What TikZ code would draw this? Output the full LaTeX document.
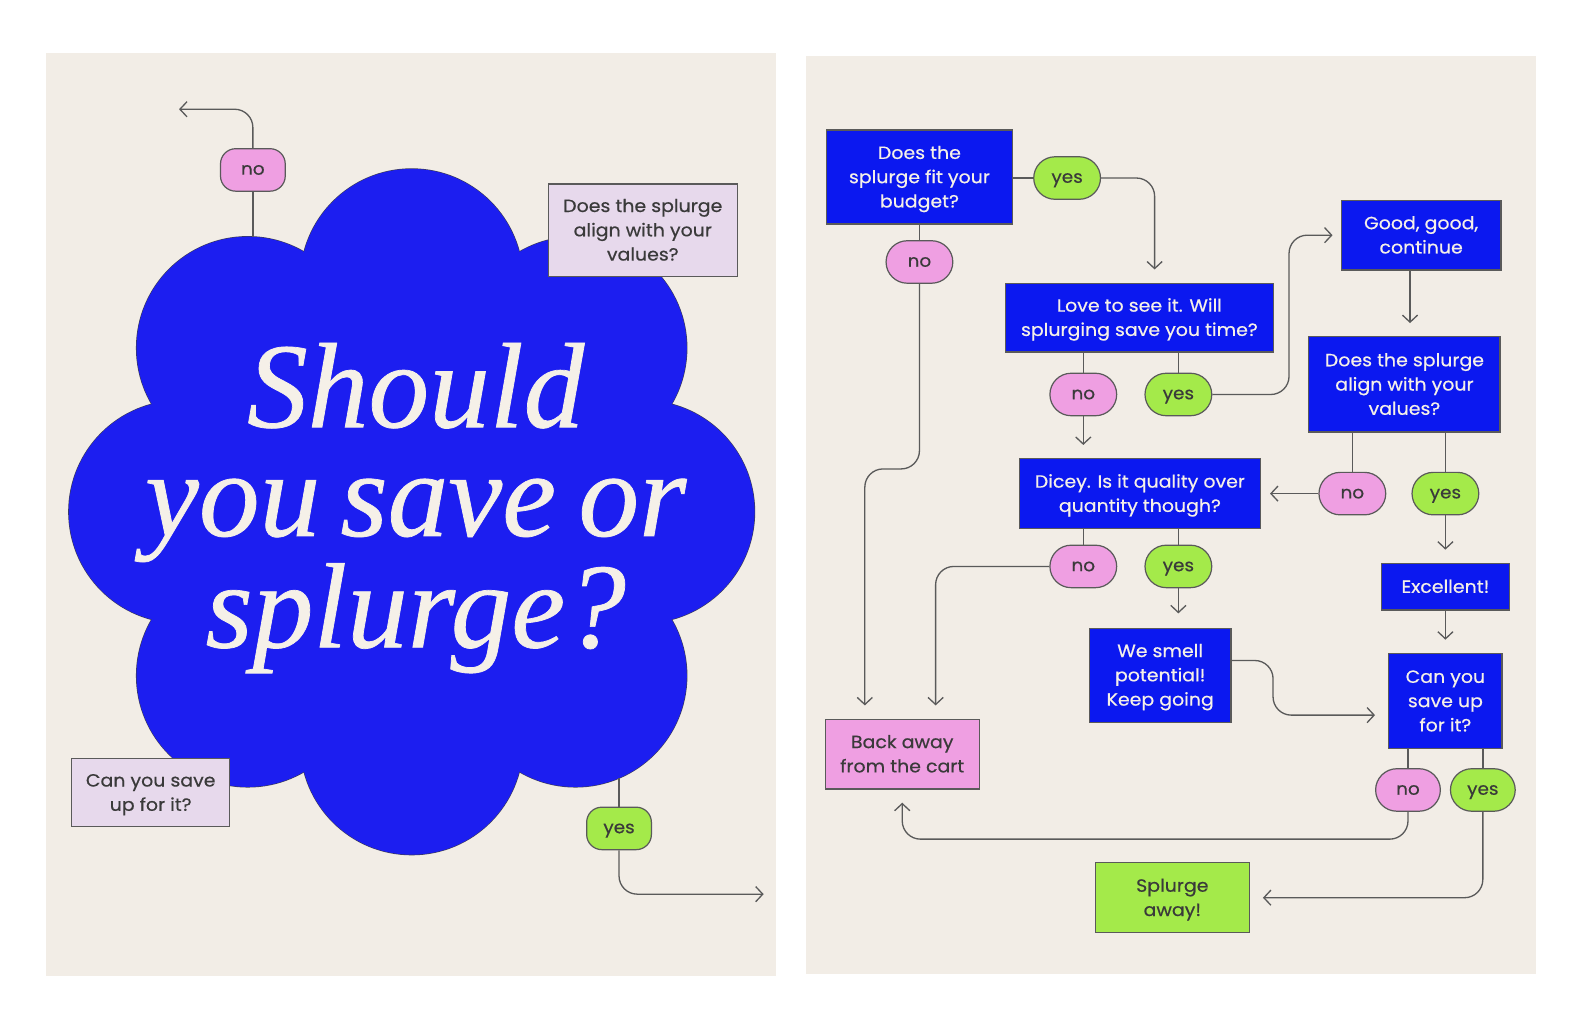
\documentclass[tikz,border=0pt]{standalone}
\usepackage{fontspec}
\setmainfont{Poppins}[FakeBold=0.5, FakeStretch=1.07]
\newfontfamily\titlefont{Liberation Serif}[FakeBold=0.6]
\usetikzlibrary{arrows.meta,calc}
\definecolor{bgc}{HTML}{F2EDE6}
\definecolor{bluebox}{HTML}{0B18F0}
\definecolor{cloudblue}{HTML}{1C1EF0}
\definecolor{cloudedge}{HTML}{3C3C5A}
\definecolor{pinkc}{HTML}{EF9FE2}
\definecolor{greenc}{HTML}{A4EA4A}
\definecolor{lavc}{HTML}{E7D9EC}
\definecolor{linec}{HTML}{5A5A5A}
\definecolor{txtc}{HTML}{3A3A3A}
\definecolor{offw}{HTML}{F5F0E8}
\newcommand{\tl}[1]{\rule{0pt}{17.5pt}#1\rule[-5.3pt]{0pt}{5.3pt}}
\newcommand{\pl}[1]{\rule{0pt}{15.4pt}#1\rule[-6pt]{0pt}{6pt}}
\begin{document}
\begin{tikzpicture}[x=1pt,y=-1pt,
  boxtext/.style={font=\fontsize{17.5}{24}\selectfont, align=center, inner sep=0pt},
  bluebx/.style={boxtext, draw=linec, line width=1.2pt, fill=bluebox, text=offw},
  lavbx/.style={boxtext, draw=linec, line width=1.2pt, fill=lavc, text=txtc},
  pinkbx/.style={boxtext, draw=linec, line width=1.2pt, fill=pinkc, text=txtc},
  greenbx/.style={boxtext, draw=linec, line width=1.2pt, fill=greenc, text=txtc},
  pill/.style={font=\fontsize{17}{20}\selectfont, draw=linec, line width=1.2pt, text=txtc,
    rounded corners=21pt, minimum width=66pt, minimum height=42pt, inner sep=0pt},
  lpill/.style={pill, rounded corners=15pt, minimum width=64pt},
  nopill/.style={pill, fill=pinkc},
  yespill/.style={pill, fill=greenc},
  conn/.style={draw=linec, line width=1.3pt},
  arr/.style={conn, -{Straight Barb[length=7pt,width=15pt]}},
  rc/.style={rounded corners=18pt},
  titletext/.style={font=\titlefont\itshape\fontsize{120}{107.5}\selectfont, text=offw,
    align=center, inner sep=0pt}
]
\useasboundingbox (0,0) rectangle (1568,1018);
\fill[white] (0,0) rectangle (1568,1018);
\fill[bgc] (45,52) rectangle (767,965);
\fill[bgc] (797,55) rectangle (1519,963);

% ---------- cloud ----------
\foreach \cx/\cy in {636/506,178/506,407/277,407/735,569/344,245/344,245/668,569/668}
  \draw[cloudedge, line width=1.2pt] (\cx,\cy) circle[radius=110pt];
\foreach \cx/\cy in {636/506,178/506,407/277,407/735,569/344,245/344,245/668,569/668}
  \fill[cloudblue] (\cx,\cy) circle[radius=110pt];
\fill[cloudblue] (407,506) circle[radius=200pt];

\node[titletext, anchor=base] (title) at (411,640)
  {Should\\you\hspace{20pt}save\hspace{22pt}or\\splurge?};

% ---------- left panel ----------
\coordinate (cN) at (250,234);
\coordinate (cS) at (612,769);
\coordinate (tipA) at (177,108);
\coordinate (tipB) at (755,884);
\node[lpill, nopill, rounded corners=15pt, minimum width=64pt] (lno) at (250,168) {\pl{no}};
\node[lpill, yespill, rounded corners=15pt, minimum width=64pt] (lyes) at (612,819) {\pl{yes}};
\node[lavbx, minimum width=187pt, minimum height=91pt] (lv1) at (635.5,227.5)
  {\tl{Does the splurge\\align with your\\values?}};
\node[lavbx, minimum width=156pt, minimum height=67pt] (lv2) at (149,783.5)
  {\tl{Can you save\\up for it?}};
\draw[conn] (cN) -- (lno.south);
\draw[arr, rc] (lno.north) |- (tipA);
\draw[conn] (cS) -- (lyes.north);
\draw[arr, rc] (lyes.south) |- (tipB);

% ---------- right panel ----------
\node[bluebx, minimum width=184pt, minimum height=93pt] (b1) at (909,175)
  {\tl{Does the\\splurge fit your\\budget?}};
\node[yespill] (y1) at (1055,176) {\pl{yes}};
\node[nopill] (n1) at (909,259) {\pl{no}};
\node[bluebx, minimum width=265pt, minimum height=68pt] (b2) at (1126.5,314)
  {\tl{Love to see it. Will\\splurging save you time?}};
\node[nopill] (n2) at (1071,390) {\pl{no}};
\node[yespill] (y2) at (1165,390) {\pl{yes}};
\node[bluebx, minimum width=158pt, minimum height=69pt] (gd) at (1405,232.5)
  {\tl{Good, good,\\continue}};
\node[bluebx, minimum width=189pt, minimum height=94pt] (vl) at (1388.5,380)
  {\tl{Does the splurge\\align with your\\values?}};
\node[nopill] (n3) at (1337,488) {\pl{no}};
\node[yespill] (y3) at (1429,488) {\pl{yes}};
\node[bluebx, minimum width=238pt, minimum height=69pt] (dc) at (1127,488)
  {\tl{Dicey. Is it quality over\\quantity though?}};
\node[nopill] (n4) at (1071,560) {\pl{no}};
\node[yespill] (y4) at (1165,560) {\pl{yes}};
\node[bluebx, minimum width=140pt, minimum height=93pt] (sm) at (1147,667.5)
  {\tl{We smell\\potential!\\Keep going}};
\node[bluebx, minimum width=127pt, minimum height=46pt] (ex) at (1429,580)
  {\tl{Excellent!}};
\node[bluebx, minimum width=112pt, minimum height=94pt] (cn) at (1429,693)
  {\tl{Can you\\save up\\for it?}};
\node[nopill, minimum width=64pt] (n5) at (1392,781) {\pl{no}};
\node[yespill, minimum width=64pt] (y5) at (1466,781) {\pl{yes}};
\node[pinkbx, minimum width=152pt, minimum height=69pt] (ba) at (892,745.5)
  {\tl{Back away\\from the cart}};
\node[greenbx, minimum width=152pt, minimum height=69pt] (sp) at (1159,887.5)
  {\tl{Splurge\\away!}};

% connectors
\draw[conn] (b1.east |- y1.west) -- (y1.west);
\draw[arr, rc, shorten >=13pt] (y1.east) -| ([xshift=15pt]b2.north);
\draw[conn] (b1.south) -- (n1.north);
\draw[arr, rc, shorten >=13pt] (n1.south) -- ++(0,183) -| ([xshift=-37pt]ba.north);
\draw[arr, rc, shorten >=13pt] (n4.west) -| ([xshift=33pt]ba.north);
\draw[conn] (n2.north |- b2.south) -- (n2.north);
\draw[conn] (y2.north |- b2.south) -- (y2.north);
\draw[arr, shorten >=13pt] (n2.south) -- (n2.south |- dc.north);
\draw[arr, rc, shorten >=8pt] (y2.east) -| ([xshift=-51pt]gd.west) -- (gd.west);
\draw[arr, shorten >=13pt] ([xshift=-11pt]gd.south) -- ([xshift=-11pt]gd.south |- vl.north);
\draw[conn] (n3.north |- vl.south) -- (n3.north);
\draw[conn] (y3.north |- vl.south) -- (y3.north);
\draw[arr, shorten >=9pt] (n3.west) -- (n3.west -| dc.east);
\draw[arr, shorten >=13pt] (y3.south) -- (y3.south |- ex.north);
\draw[arr, shorten >=13pt] (ex.south) -- (cn.north);
\draw[conn] (n4.north |- dc.south) -- (n4.north);
\draw[conn] (y4.north |- dc.south) -- (y4.north);
\draw[arr, shorten >=14pt] (y4.south) -- (y4.south |- sm.north);
\draw[arr, rc, shorten >=13pt] ([yshift=14.5pt]sm.east) -- ++(41,0) |- ([yshift=-14pt]cn.west);
\draw[conn] (n5.north |- cn.south) -- (n5.north);
\draw[conn] (y5.north |- cn.south) -- (y5.north);
\draw[arr, rc, shorten >=13pt] (n5.south) -- ++(0,27) -| (ba.south);
\draw[arr, rc, shorten >=13pt] (y5.south) |- (sp.east);
\end{tikzpicture}
\end{document}
